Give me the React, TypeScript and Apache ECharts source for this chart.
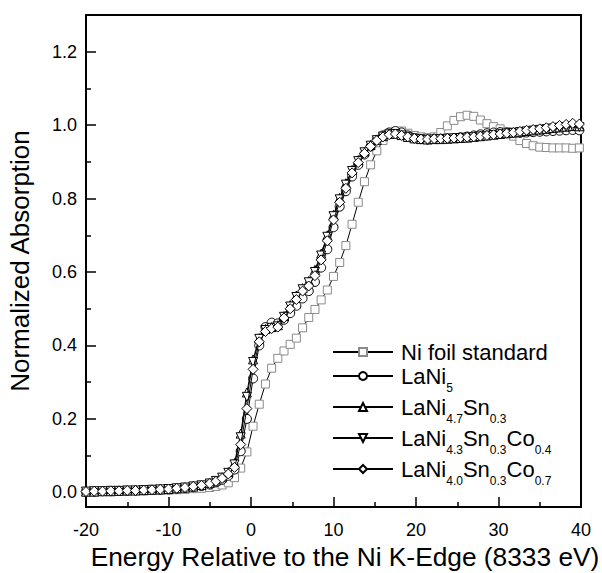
import React, { useEffect, useRef } from "react";
import * as echarts from "echarts";

const FONT = "'Liberation Sans', Arial, Helvetica, sans-serif";

// Energy relative to the Ni K-edge (eV)
const energy = [
  -20, -19, -18, -17, -16, -15, -14, -13, -12, -11, -10, -9, -8, -7, -6, -5,
  -4.25, -3.5, -2.75, -2, -1.25, -0.5, 0.25, 1, 1.75, 2.5, 3.25, 4, 4.75, 5.5, 6.25, 7,
  7.75, 8.5, 9.25, 10, 10.75, 11.5, 12.25, 13, 13.75, 14.5, 15.25, 16, 16.75, 17.5, 18.25, 19,
  19.8, 20.6, 21.4, 22.2, 23, 23.8, 24.6, 25.4, 26.2, 27, 27.8, 28.6, 29.4, 30.2, 31, 31.8,
  32.6, 33.4, 34.2, 35, 35.8, 36.6, 37.4, 38.2, 39, 39.8,
];

const niFoil = [
  0.0, 0.001, 0.002, 0.002, 0.003, 0.003, 0.004, 0.004, 0.005, 0.006, 0.006, 0.007, 0.008, 0.01, 0.011, 0.013,
  0.016, 0.02, 0.026, 0.04, 0.066, 0.11, 0.18, 0.24, 0.295, 0.338, 0.365, 0.385, 0.403, 0.42, 0.448, 0.476,
  0.498, 0.524, 0.551, 0.588, 0.626, 0.672, 0.73, 0.79, 0.846, 0.892, 0.93, 0.958, 0.975, 0.983, 0.984, 0.978,
  0.972, 0.968, 0.966, 0.968, 0.98, 0.998, 1.013, 1.023, 1.027, 1.024, 1.014, 1.004, 0.996, 0.99, 0.982, 0.97,
  0.958, 0.95, 0.944, 0.94, 0.939, 0.938, 0.938, 0.938, 0.937, 0.938,
];

const laNi5 = [
  0.002, 0.002, 0.003, 0.003, 0.004, 0.004, 0.005, 0.006, 0.006, 0.007, 0.008, 0.01, 0.012, 0.014, 0.017, 0.021,
  0.027, 0.034, 0.045, 0.062, 0.112, 0.2, 0.31, 0.4, 0.45, 0.462, 0.46, 0.47, 0.488, 0.508, 0.528, 0.548,
  0.573, 0.612, 0.662, 0.722, 0.778, 0.82, 0.86, 0.892, 0.92, 0.942, 0.96, 0.972, 0.98, 0.984, 0.98, 0.972,
  0.965, 0.962, 0.961, 0.962, 0.963, 0.964, 0.965, 0.967, 0.969, 0.972, 0.975, 0.978, 0.98, 0.981, 0.98, 0.979,
  0.979, 0.98, 0.981, 0.982, 0.983, 0.984, 0.985, 0.986, 0.987, 0.986,
];

const laNi47Sn03 = [
  0.002, 0.002, 0.003, 0.003, 0.004, 0.005, 0.005, 0.006, 0.007, 0.008, 0.009, 0.011, 0.013, 0.016, 0.02, 0.025,
  0.032, 0.041, 0.055, 0.08, 0.16, 0.272, 0.362, 0.42, 0.445, 0.45, 0.455, 0.48, 0.51, 0.536, 0.556, 0.576,
  0.606, 0.65, 0.7, 0.756, 0.802, 0.842, 0.878, 0.905, 0.928, 0.946, 0.96, 0.97, 0.976, 0.977, 0.973, 0.968,
  0.964, 0.962, 0.961, 0.962, 0.962, 0.963, 0.964, 0.965, 0.966, 0.968, 0.97, 0.972, 0.974, 0.976, 0.978, 0.98,
  0.982, 0.984, 0.986, 0.988, 0.99, 0.992, 0.994, 0.996, 0.998, 0.997,
];

const laNi43Sn03Co04 = [
  0.002, 0.003, 0.003, 0.004, 0.004, 0.005, 0.005, 0.006, 0.007, 0.008, 0.009, 0.011, 0.013, 0.016, 0.019, 0.024,
  0.031, 0.04, 0.053, 0.076, 0.15, 0.26, 0.355, 0.418, 0.442, 0.448, 0.452, 0.478, 0.506, 0.532, 0.553, 0.572,
  0.6, 0.645, 0.696, 0.752, 0.798, 0.838, 0.875, 0.902, 0.926, 0.944, 0.959, 0.969, 0.975, 0.976, 0.972, 0.967,
  0.963, 0.961, 0.96, 0.961, 0.962, 0.963, 0.964, 0.965, 0.966, 0.967, 0.969, 0.971, 0.973, 0.975, 0.977, 0.979,
  0.981, 0.983, 0.985, 0.987, 0.989, 0.991, 0.993, 0.995, 0.996, 0.995,
];

const laNi40Sn03Co07 = [
  0.002, 0.003, 0.003, 0.004, 0.004, 0.005, 0.005, 0.006, 0.007, 0.008, 0.009, 0.011, 0.013, 0.016, 0.019, 0.024,
  0.03, 0.038, 0.05, 0.068, 0.13, 0.228, 0.335, 0.41, 0.438, 0.446, 0.45, 0.475, 0.5, 0.525, 0.548, 0.562,
  0.59, 0.633, 0.685, 0.742, 0.79, 0.828, 0.87, 0.898, 0.923, 0.942, 0.958, 0.968, 0.974, 0.976, 0.972, 0.968,
  0.964, 0.962, 0.962, 0.963, 0.963, 0.964, 0.965, 0.966, 0.967, 0.968, 0.97, 0.972, 0.974, 0.976, 0.978, 0.98,
  0.983, 0.986, 0.988, 0.99, 0.993, 0.996, 0.999, 1.002, 1.005, 1.003,
];

const xTicks = [-20, -10, 0, 10, 20, 30, 40];
const yMajorTicks = [0, 0.2, 0.4, 0.6, 0.8, 1.0, 1.2];
const yMinorTicks = [0.1, 0.3, 0.5, 0.7, 0.9, 1.1];

const seriesNames = [
  "Ni foil standard",
  "LaNi5",
  "LaNi4.7Sn0.3",
  "LaNi4.3Sn0.3Co0.4",
  "LaNi4.0Sn0.3Co0.7",
];
const legendRich: Record<string, string> = {
  "Ni foil standard": "{n|Ni foil standard}",
  LaNi5: "{n|LaNi}{s|5}",
  "LaNi4.7Sn0.3": "{n|LaNi}{s|4.7}{n|Sn}{s|0.3}",
  "LaNi4.3Sn0.3Co0.4": "{n|LaNi}{s|4.3}{n|Sn}{s|0.3}{n|Co}{s|0.4}",
  "LaNi4.0Sn0.3Co0.7": "{n|LaNi}{s|4.0}{n|Sn}{s|0.3}{n|Co}{s|0.7}",
};

const seriesValues = [niFoil, laNi5, laNi47Sn03, laNi43Sn03Co04, laNi40Sn03Co07];
const seriesSymbols = ["rect", "circle", "triangle", "triangle", "diamond"];
const seriesSymbolRotate = [0, 0, 0, 180, 0];
const seriesSymbolSize = [8, 9, 9, 9, 10];
const seriesMarkerColor = ["#8a8a8a", "#000", "#000", "#000", "#000"];

export default function App() {
  const ref = useRef<HTMLDivElement>(null);

  useEffect(() => {
    if (!ref.current) return;
    const chart = echarts.init(ref.current, undefined, { renderer: "svg" });

    const series = seriesNames.map((name, i) => ({
      name,
      type: "line",
      data: energy.map((e, k) => [e, seriesValues[i][k]]),
      symbol: seriesSymbols[i],
      symbolRotate: seriesSymbolRotate[i],
      symbolSize: seriesSymbolSize[i],
      showAllSymbol: true,
      lineStyle: { color: "#000", width: 1 },
      itemStyle: { color: "#fff", borderColor: seriesMarkerColor[i], borderWidth: 1 },
      z: 2 + i,
    }));

    chart.setOption({
      animation: false,
      backgroundColor: "#fff",
      textStyle: { fontFamily: FONT, color: "#000" },
      grid: {
        left: 86,
        right: 21,
        top: 15,
        bottom: 66,
        outerBoundsMode: "none",
        containLabel: false,
        show: true,
        borderColor: "#000",
        borderWidth: 2,
        backgroundColor: "transparent",
      },
      legend: {
        orient: "vertical",
        left: 332,
        top: 341,
        padding: 0,
        itemWidth: 60,
        itemHeight: 10,
        itemGap: -2,
        selectedMode: false,
        data: seriesNames,
        formatter: (name: string) => legendRich[name] || name,
        textStyle: {
          fontFamily: FONT,
          fontSize: 22,
          color: "#000",
          padding: [0, 0, 0, 3],
          rich: {
            n: { fontFamily: FONT, fontSize: 22, lineHeight: 30, verticalAlign: "middle", color: "#000" },
            s: {
              fontFamily: FONT,
              fontSize: 12,
              lineHeight: 2,
              verticalAlign: "top",
              padding: [21, 0, 0, 0],
              color: "#000",
            },
          },
        },
      },
      xAxis: {
        type: "value",
        min: -20,
        max: 40,
        interval: 10,
        name: "Energy Relative to the Ni K-Edge (8333 eV)",
        nameLocation: "middle",
        nameGap: 36,
        nameTextStyle: { fontFamily: FONT, fontSize: 26.3, color: "#000", padding: [0, 0, 0, 23] },
        axisLine: { show: true, onZero: false, lineStyle: { color: "#000", width: 2 } },
        axisTick: { show: true, inside: true, length: 10, lineStyle: { color: "#000", width: 1.5 } },
        minorTick: { show: true, splitNumber: 2, length: 5, lineStyle: { color: "#000", width: 1.5 } },
        axisLabel: {
          fontFamily: FONT,
          fontSize: 18,
          color: "#000",
          margin: 14,
          customValues: xTicks,
          formatter: (v: number) => String(v),
        },
        splitLine: { show: false },
      },
      yAxis: [
        {
          type: "value",
          min: -0.04,
          max: 1.3,
          name: "Normalized Absorption",
          nameLocation: "middle",
          nameGap: 53,
          nameTextStyle: { fontFamily: FONT, fontSize: 26, color: "#000" },
          axisLine: { show: true, onZero: false, lineStyle: { color: "#000", width: 2 } },
          axisTick: {
            show: true,
            inside: true,
            length: 10,
            customValues: yMajorTicks,
            lineStyle: { color: "#000", width: 1.5 },
          },
          axisLabel: {
            fontFamily: FONT,
            fontSize: 18,
            color: "#000",
            margin: 9,
            customValues: yMajorTicks,
            formatter: (v: number) => v.toFixed(1),
          },
          splitLine: { show: false },
        },
        {
          type: "value",
          position: "left",
          min: -0.04,
          max: 1.3,
          axisLine: { show: false, onZero: false },
          axisTick: {
            show: true,
            inside: true,
            length: 5,
            customValues: yMinorTicks,
            lineStyle: { color: "#000", width: 1.5 },
          },
          axisLabel: { show: false, customValues: yMinorTicks },
          splitLine: { show: false },
        },
      ],
      series,
    });

    return () => chart.dispose();
  }, []);

  return (
    <div
      ref={ref}
      style={{ position: "fixed", left: 0, top: 0, width: 602, height: 573, background: "#fff" }}
    />
  );
}
